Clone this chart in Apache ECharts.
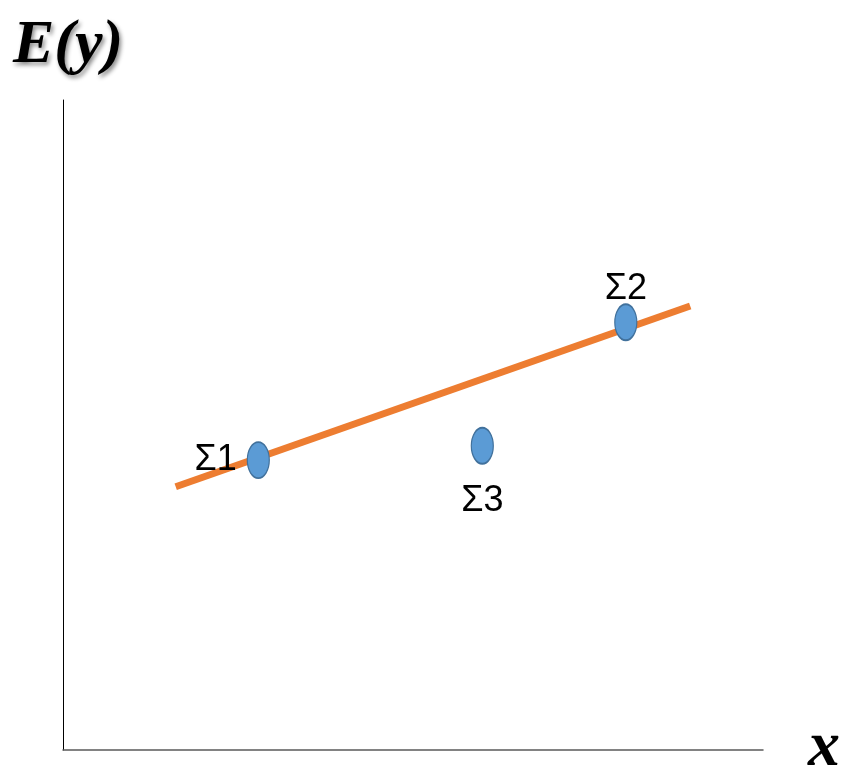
<!DOCTYPE html>
<html>
<head>
<meta charset="utf-8">
<script src="https://cdn.jsdelivr.net/npm/echarts@6/dist/echarts.min.js"></script>
<style>
  html, body { margin: 0; padding: 0; background: #fff; }
  #main { width: 843px; height: 768px; }
</style>
</head>
<body>
<div id="main"></div>
<script>
// 数据
var pointNames = ['Σ1', 'Σ2', 'Σ3']
var pointX = [2.79, 8.04, 5.99]
var pointY = [4.46, 6.58, 4.68]
var labelPos = ['left', 'top', 'bottom']
var labelGap = [10, -4, 18]

var lineX = [1.61, 8.96]
var lineY = [4.05, 6.83]

var chart = echarts.init(document.getElementById('main'))

var scatterData = pointNames.map(function (n, i) {
  return {
    name: n,
    value: [pointX[i], pointY[i]],
    label: { position: labelPos[i], distance: labelGap[i] }
  }
})

var option = {
  animation: false,
  backgroundColor: '#fff',
  title: {
    text: 'E(y)',
    left: 8,
    top: 10,
    textStyle: {
      fontFamily: 'Liberation Serif',
      fontStyle: 'italic',
      fontWeight: 'bold',
      fontSize: 62,
      color: '#000',
      textShadowColor: 'rgba(0,0,0,0.45)',
      textShadowBlur: 4,
      textShadowOffsetX: 2,
      textShadowOffsetY: 3
    }
  },
  graphic: [
    {
      type: 'text',
      left: 808,
      top: 716,
      style: {
        text: 'x',
        font: 'italic bold 64px "Liberation Serif"',
        fill: '#000',
        shadowColor: 'rgba(0,0,0,0.45)',
        shadowBlur: 4,
        shadowOffsetX: 2,
        shadowOffsetY: 3
      }
    }
  ],
  grid: {
    left: 63,
    right: 80,
    top: 100,
    bottom: 18
  },
  xAxis: {
    type: 'value',
    min: 0,
    max: 10,
    axisLine: { show: true, onZero: false, lineStyle: { color: '#595959', width: 1.5 } },
    axisTick: { show: false },
    axisLabel: { show: false },
    splitLine: { show: false }
  },
  yAxis: {
    type: 'value',
    min: 0,
    max: 10,
    axisLine: { show: true, onZero: false, lineStyle: { color: '#000', width: 1 } },
    axisTick: { show: false },
    axisLabel: { show: false },
    splitLine: { show: false }
  },
  series: [
    {
      type: 'line',
      data: lineX.map(function (x, i) { return [x, lineY[i]] }),
      symbol: 'none',
      lineStyle: { color: '#ED7D31', width: 7 },
      z: 2
    },
    {
      type: 'scatter',
      data: scatterData,
      symbol: 'circle',
      symbolSize: [22, 36],
      itemStyle: {
        color: '#5B9BD5',
        borderColor: '#41719C',
        borderWidth: 1.5,
        opacity: 1
      },
      label: {
        show: true,
        formatter: '{b}',
        fontFamily: 'Liberation Sans',
        fontSize: 36,
        color: '#000'
      },
      z: 3
    }
  ]
}

chart.setOption(option)
window.addEventListener('resize', function () {
  chart.resize()
})
</script>
</body>
</html>
